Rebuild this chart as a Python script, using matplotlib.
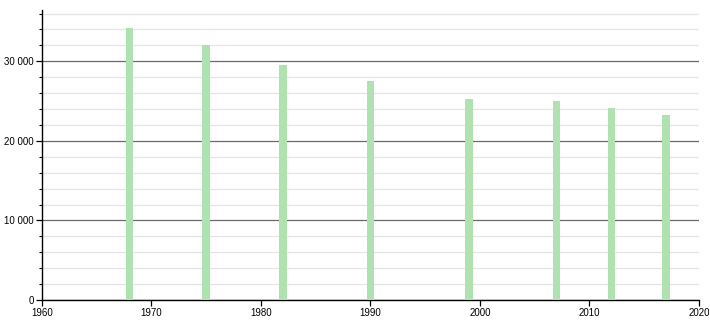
import numpy as np
import matplotlib
matplotlib.use("Agg")
import matplotlib.pyplot as plt
from matplotlib.ticker import FuncFormatter, MultipleLocator

# population by census year
years = [1968, 1975, 1982, 1990, 1999, 2007, 2012, 2017]
population = [34200, 32000, 29500, 27500, 25250, 25050, 24150, 23250]

x_ticks = [1960, 1970, 1980, 1990, 2000, 2010, 2020]

plt.rcParams['font.family'] = ['Liberation Sans', 'DejaVu Sans']

fig = plt.figure(figsize=(7.1, 3.2), dpi=100)
ax = fig.add_axes([0.059, 0.0625, 0.9255, 0.9075])

ax.bar(years, population, width=0.7, color='#b0e2b0', zorder=3)

ax.set_xlim(1960, 2020)
ax.set_ylim(0, 36500)
ax.set_xticks(x_ticks)
ax.yaxis.set_major_locator(MultipleLocator(10000))
ax.yaxis.set_minor_locator(MultipleLocator(2000))
ax.yaxis.set_major_formatter(FuncFormatter(lambda v, p: f"{int(v):,}".replace(",", " ")))

# grid: dark major, light minor
ax.grid(axis='y', which='minor', color='#e4e4e4', linewidth=0.9, zorder=0)
ax.grid(axis='y', which='major', color='#6a6a6a', linewidth=0.9, zorder=1)
ax.set_axisbelow(True)

for s in ['top', 'right']:
    ax.spines[s].set_visible(False)
for s in ['left', 'bottom']:
    ax.spines[s].set_color('black')
    ax.spines[s].set_linewidth(1.0)

ax.tick_params(axis='both', which='major', labelsize=7, length=4, width=0.9, direction='out', pad=2)
ax.tick_params(axis='y', which='minor', length=2, width=0.8)
ax.tick_params(axis='x', which='minor', length=0)

fig.savefig("out.png", dpi=100)
